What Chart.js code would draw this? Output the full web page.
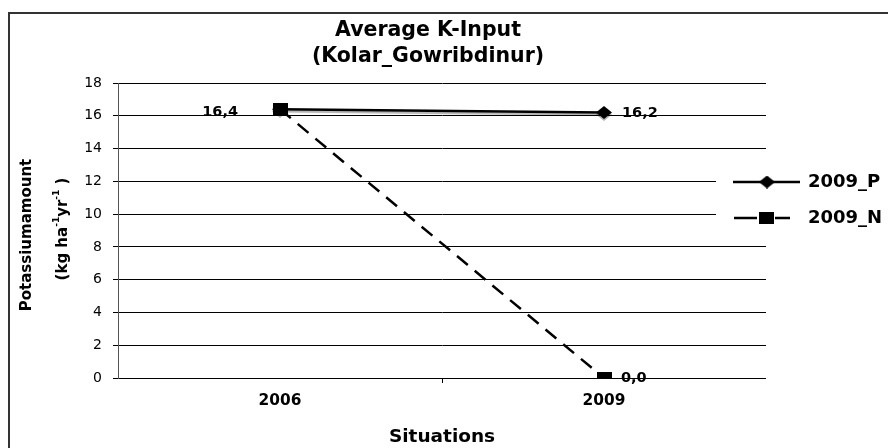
<!DOCTYPE html>
<html>
<head>
<meta charset="utf-8">
<script src="https://cdn.jsdelivr.net/npm/chart.js@4.4.1/dist/chart.umd.min.js"></script>
<style>
  html, body { margin: 0; padding: 0; background: #fff; }
  canvas { display: block; }
</style>
</head>
<body>
<canvas id="chart" width="888" height="448"></canvas>
<script>
// Chart content
const situations = ['2006', '2009'];
const seriesNames = ['2009_P', '2009_N'];
const valuesP = [16.4, 16.2];
const valuesN = [16.4, 0.0];
const yMin = 0;
const yMax = 18;
const yStep = 2;
const titleLines = ['Average K-Input', '(Kolar_Gowribdinur)'];
const xAxisTitle = 'Situations';
const yAxisTitle = 'Potassiumamount';

const FONT = "'DejaVu Sans', sans-serif";

// Small bitmap markers (slightly wider than tall)
function makeMarker(shape, w, h) {
  const c = document.createElement('canvas');
  c.width = w; c.height = h;
  const g = c.getContext('2d');
  g.fillStyle = '#000';
  if (shape === 'diamond') {
    g.beginPath();
    g.moveTo(w / 2, 0); g.lineTo(w, h / 2); g.lineTo(w / 2, h); g.lineTo(0, h / 2);
    g.closePath(); g.fill();
  } else {
    g.fillRect(0, 0, w, h);
  }
  return c;
}
const diamondMark = makeMarker('diamond', 16, 13);
const squareMark = makeMarker('square', 15, 12);

const fmt = v => v.toFixed(1).replace('.', ',');

const decor = {
  id: 'decor',
  beforeDraw(chart) {
    const ctx = chart.ctx;
    ctx.save();
    ctx.fillStyle = '#fff';
    ctx.fillRect(0, 0, chart.width, chart.height);
    ctx.restore();
  },
  beforeDatasetDraw(chart, args) {
    if (args.index === 0) {
      const ctx = chart.ctx;
      ctx.save();
      ctx.shadowColor = 'rgba(0,0,0,0.3)';
      ctx.shadowOffsetY = 2;
      ctx.shadowBlur = 1;
    }
  },
  afterDatasetDraw(chart, args) {
    if (args.index === 0) chart.ctx.restore();
  },
  afterDatasetsDraw(chart) {
    const ctx = chart.ctx;
    const mP = chart.getDatasetMeta(0).data;
    const mN = chart.getDatasetMeta(1).data;
    ctx.save();
    ctx.fillStyle = '#000';
    ctx.font = `bold 14.5px ${FONT}`;
    ctx.textBaseline = 'middle';
    // shared start value, label on the left
    ctx.textAlign = 'right';
    ctx.fillText(fmt(valuesP[0]), mP[0].x - 42, mP[0].y + 3);
    ctx.textAlign = 'left';
    ctx.fillText(fmt(valuesP[1]), mP[1].x + 18, mP[1].y + 1);
    ctx.fillText(fmt(valuesN[1]), mN[1].x + 17, mN[1].y);
    ctx.restore();
  },
  afterDraw(chart) {
    const ctx = chart.ctx;
    ctx.save();

    // outer frame
    ctx.strokeStyle = '#333';
    ctx.lineWidth = 2;
    ctx.beginPath();
    ctx.moveTo(9, 448); ctx.lineTo(9, 13); ctx.lineTo(888, 13);
    ctx.stroke();

    // title
    ctx.fillStyle = '#000';
    ctx.textAlign = 'center';
    ctx.textBaseline = 'middle';
    ctx.font = `bold 20.5px ${FONT}`;
    ctx.fillText(titleLines[0], 428, 31);
    ctx.fillText(titleLines[1], 428, 57);

    // y axis title (rotated, with superscripts)
    ctx.save();
    ctx.translate(27, 235);
    ctx.rotate(-Math.PI / 2);
    ctx.font = `bold 15px ${FONT}`;
    ctx.fillText(yAxisTitle, 0, 0);
    ctx.restore();

    ctx.save();
    ctx.translate(63, 229);
    ctx.rotate(-Math.PI / 2);
    const parts = [
      { t: '(kg ha', sup: false },
      { t: '-1', sup: true },
      { t: 'yr', sup: false },
      { t: '-1', sup: true },
      { t: ' )', sup: false }
    ];
    const bigF = `bold 15px ${FONT}`;
    const supF = `bold 9px ${FONT}`;
    let total = 0;
    parts.forEach(p => { ctx.font = p.sup ? supF : bigF; p.w = ctx.measureText(p.t).width; total += p.w; });
    let px = -total / 2;
    ctx.textAlign = 'left';
    parts.forEach(p => {
      ctx.font = p.sup ? supF : bigF;
      ctx.fillText(p.t, px, p.sup ? -6 : 0);
      px += p.w;
    });
    ctx.restore();

    // legend
    ctx.fillStyle = '#fff';
    ctx.fillRect(716, 162, 172, 74);
    ctx.strokeStyle = '#000';
    ctx.lineWidth = 2.5;
    ctx.beginPath();
    ctx.moveTo(733, 182); ctx.lineTo(800, 182);
    ctx.stroke();
    ctx.drawImage(diamondMark, 767 - 8, 182 - 6.5);
    ctx.beginPath();
    ctx.moveTo(734, 218); ctx.lineTo(757, 218);
    ctx.moveTo(775, 218); ctx.lineTo(790, 218);
    ctx.stroke();
    ctx.drawImage(squareMark, 766 - 7.5, 218 - 6);

    ctx.fillStyle = '#000';
    ctx.font = `bold 18px ${FONT}`;
    ctx.textAlign = 'left';
    ctx.textBaseline = 'middle';
    ctx.fillText(seriesNames[0], 808, 182);
    ctx.fillText(seriesNames[1], 808, 218);

    ctx.restore();
  }
};

new Chart(document.getElementById('chart'), {
  type: 'line',
  data: {
    labels: situations,
    datasets: [
      {
        label: seriesNames[0],
        data: valuesP,
        order: 1,
        borderColor: '#000',
        backgroundColor: '#000',
        borderWidth: 2.5,
        pointStyle: diamondMark,
        pointRadius: 6,
        tension: 0
      },
      {
        label: seriesNames[1],
        data: valuesN,
        order: 0,
        borderColor: '#000',
        backgroundColor: '#000',
        borderWidth: 2.5,
        borderDash: [14, 9],
        pointStyle: squareMark,
        pointRadius: 6,
        tension: 0
      }
    ]
  },
  options: {
    responsive: false,
    animation: false,
    devicePixelRatio: 1,
    layout: { padding: { top: 83, right: 122, bottom: 0, left: 0 } },
    plugins: {
      legend: { display: false },
      title: { display: false },
      tooltip: { enabled: false }
    },
    scales: {
      x: {
        offset: true,
        afterFit(scale) { scale.height = 70; },
        grid: {
          offset: true,
          drawOnChartArea: false,
          drawTicks: true,
          tickLength: 5,
          color: c => (c.index === 1 ? '#000' : 'rgba(0,0,0,0)')
        },
        border: { display: false },
        ticks: {
          color: '#000',
          font: { family: FONT, size: 15.4, weight: 'bold' },
          padding: 9
        },
        title: {
          display: true,
          text: xAxisTitle,
          color: '#000',
          font: { family: FONT, size: 18.5, weight: 'bold' },
          padding: { top: 0, bottom: 0 }
        }
      },
      y: {
        min: yMin,
        max: yMax,
        afterFit(scale) { scale.width = 118; },
        grid: {
          color: '#000',
          lineWidth: 1,
          tickLength: 5
        },
        border: { display: true, color: '#555', width: 1 },
        ticks: {
          stepSize: yStep,
          color: '#000',
          font: { family: FONT, size: 14 },
          padding: 11
        }
      }
    }
  },
  plugins: [decor]
});
</script>
</body>
</html>
